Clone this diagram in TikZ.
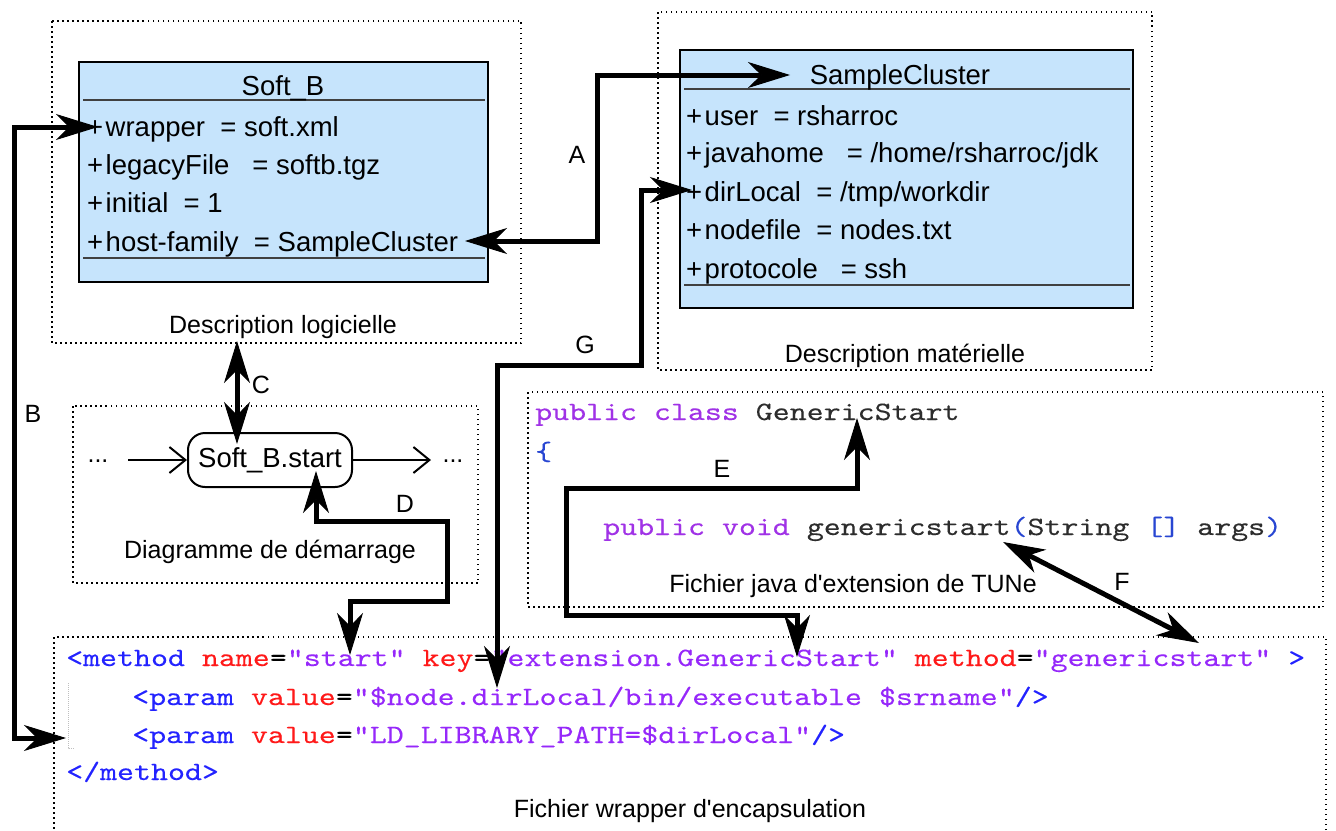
\documentclass[tikz,border=0pt]{standalone}
\usepackage{fontspec}
\setmainfont{Liberation Sans}
\newfontfamily\codefont[FakeStretch=1.22,FakeBold=0.2]{lmmono10-regular.otf}
\usetikzlibrary{arrows.meta,calc}

\definecolor{umlblue}{RGB}{198,228,252}
\definecolor{tagblue}{RGB}{35,35,255}
\definecolor{attrred}{RGB}{255,25,25}
\definecolor{strviolet}{RGB}{150,40,250}
\definecolor{kwviolet}{RGB}{160,50,230}
\definecolor{identgray}{RGB}{45,45,45}
\definecolor{punctblue}{RGB}{40,70,210}

\newcommand{\xtag}[1]{{\color{tagblue}#1}}
\newcommand{\xattr}[1]{{\color{attrred}#1}}
\newcommand{\xstr}[1]{{\color{strviolet}#1}}
\newcommand{\jkw}[1]{{\color{kwviolet}#1}}
\newcommand{\jid}[1]{{\color{identgray}#1}}
\newcommand{\jp}[1]{{\color{punctblue}#1}}

\tikzset{
    zonebox/.style={draw, line width=1.5pt, dash pattern=on 1.5pt off 3.5pt},
    umlbox/.style={draw, line width=2.5pt, fill=umlblue},
    umlsep/.style={line width=1.2pt, draw=black!75},
    umlrow/.style={anchor=base west, inner sep=0pt, font=\fontsize{27.5}{32}\selectfont},
    umltitle/.style={anchor=base, inner sep=0pt, font=\fontsize{27.5}{32}\selectfont},
    zonelabel/.style={anchor=base, inner sep=0pt, font=\fontsize{25}{30}\selectfont},
    linklabel/.style={anchor=base, inner sep=0pt, font=\fontsize{25}{30}\selectfont},
    codeline/.style={anchor=base west, inner sep=0pt, font=\codefont\fontsize{26.5}{32}\selectfont},
    actnode/.style={draw, line width=2pt, rounded corners=17pt, minimum width=164pt,
        minimum height=54pt, inner sep=0pt, font=\fontsize{27.5}{32}\selectfont},
    flowarrow/.style={line width=2pt, -{Straight Barb[length=16pt,width=26pt]}},
    linkarrow/.style={line width=5pt,
        {Stealth[length=42pt,width=26pt,inset=13pt,line width=1pt]}-{Stealth[length=42pt,width=26pt,inset=13pt,line width=1pt]}}
}

\begin{document}
\begin{tikzpicture}[x=1pt,y=-1pt]
    \useasboundingbox (0,0) rectangle (1336,830);

    \draw[zonebox] (52,21) rectangle (521,343);
    \draw[zonebox] (658,12) rectangle (1152,370);
    \draw[zonebox] (73,406) rectangle (478,583);
    \draw[zonebox] (528,392) rectangle (1323,607);
    \draw[zonebox] (54,637) rectangle (1326,860);

    \draw[umlbox] (79,62) rectangle (488,282);
    \draw[umlsep] (83,100) -- (485,100);
    \draw[umlsep] (83,258) -- (485,258);
    \node[umltitle] (softtitle) at (283,95) {Soft\_B};
    \node[umlrow] (wrap) at (87,136) {+\kern2.5pt wrapper\ \ = soft.xml};
    \node[umlrow] (legacy) at (87,174) {+\kern2.5pt legacyFile\ \ \ = softb.tgz};
    \node[umlrow] (init) at (87,212) {+\kern2.5pt initial\ \ = 1};
    \node[umlrow] (hostfam) at (87,251) {+\kern2.5pt host-family\ \ = SampleCluster};
    \node[zonelabel] (logilbl) at (283,333) {Description logicielle};

    \draw[umlbox] (680,50) rectangle (1133,308);
    \draw[umlsep] (684,89) -- (1130,89);
    \draw[umlsep] (684,285) -- (1130,285);
    \node[umltitle] (sctitle) at (900,84) {SampleCluster};
    \node[umlrow] (user) at (686,125) {+\kern2.5pt user\ \ = rsharroc};
    \node[umlrow] (javahome) at (686,162) {+\kern2.5pt javahome\ \ \ = /home/rsharroc/jdk};
    \node[umlrow] (dirloc) at (686,201) {+\kern2.5pt dirLocal\ \ = /tmp/workdir};
    \node[umlrow] (nodefile) at (686,239) {+\kern2.5pt nodefile\ \ = nodes.txt};
    \node[umlrow] (protocole) at (686,278) {+\kern2.5pt protocole\ \ \ = ssh};
    \node[zonelabel] (matlbl) at (905,362) {Description matérielle};

    \node[actnode] (start) at (270,460) {Soft\_B.start};
    \node[zonelabel] (dotsl) at (98,462) {...};
    \node[zonelabel] (dotsr) at (453,462) {...};
    \draw[flowarrow] ($(dotsl.base)+(30,-2)$) -- (start.west);
    \draw[flowarrow] (start.east) -- ($(dotsr.base)+(-22,-2)$);
    \node[zonelabel] (demlbl) at (270,558) {Diagramme de démarrage};

    \node[codeline] (jclass) at (535,420) {\jkw{public class} \jid{GenericStart}};
    \node[codeline] (jbrace) at (535,460) {\jp{\{}};
    \node[codeline] (jmeth) at (603,535) {\jkw{public void} \jid{genericstart}\jp{(}\jid{String} \jp{[]} \jid{args}\jp{)}};
    \node[zonelabel] (javalbl) at (853,592) {Fichier java d\textquotesingle extension de TUNe};

    \node[codeline] (mline) at (66,666) {\xtag{<method} \xattr{name}=\xstr{"start"} \xattr{key}=\xstr{"extension.GenericStart"} \xattr{method}=\xstr{"genericstart"} \xtag{>}};
    \node[codeline] (p1) at (132,705) {\xtag{<param} \xattr{value}=\xstr{"\$node.dirLocal/bin/executable \$srname"}\xtag{/>}};
    \node[codeline] (ldpath) at (132,743) {\xtag{<param} \xattr{value}=\xstr{"LD\_LIBRARY\_PATH=\$dirLocal"}\xtag{/>}};
    \node[codeline] (mend) at (66,780) {\xtag{</method>}};
    \draw[gray!50, line width=1pt, dash pattern=on 1pt off 1pt] (68,683) -- (68,748) -- (74,748);
    \node[zonelabel] (wraplbl) at (690,817) {Fichier wrapper d\textquotesingle encapsulation};

    \draw[linkarrow] ($(hostfam.base west)+(378,-10)$) -- ++(132,0) |- ($(sctitle.base)+(-110,-9)$);
    \draw[linkarrow] ($(wrap.base west)+(11,-9)$) -- ++(-84,0) |- ($(ldpath.base west)+(-66,-5)$);
    \draw[linkarrow] ($(start.north)+(-33,-91)$) -- ($(start.north)+(-33,12)$);
    \draw[linkarrow] ($(start.south)+(46,-17)$) -- ++(0,50) -- ++(131,0) -- ++(0,80) -| ($(mline.base west)+(284,-11)$);
    \draw[linkarrow] ($(jclass.base west)+(322,-2)$) -- ++(0,70) -- ++(-291,0) -- ++(0,127) -| ($(mline.base west)+(731,-9)$);
    \draw[linkarrow] ($(jmeth.base west)+(400,7)$) -- ($(mline.base west)+(1133,-23)$);
    \draw[linkarrow] ($(dirloc.base west)+(6,-11)$) -- ++(-51,0) -- ++(0,175) -| ($(p1.base west)+(365,-17)$);

    \node[linklabel] (lblA) at (577,163) {A};
    \node[linklabel] (lblB) at (33,422) {B};
    \node[linklabel] (lblC) at (261,393) {C};
    \node[linklabel] (lblD) at (405,512) {D};
    \node[linklabel] (lblE) at (722,477) {E};
    \node[linklabel] (lblF) at (1122,590) {F};
    \node[linklabel] (lblG) at (585,353) {G};
\end{tikzpicture}
\end{document}
